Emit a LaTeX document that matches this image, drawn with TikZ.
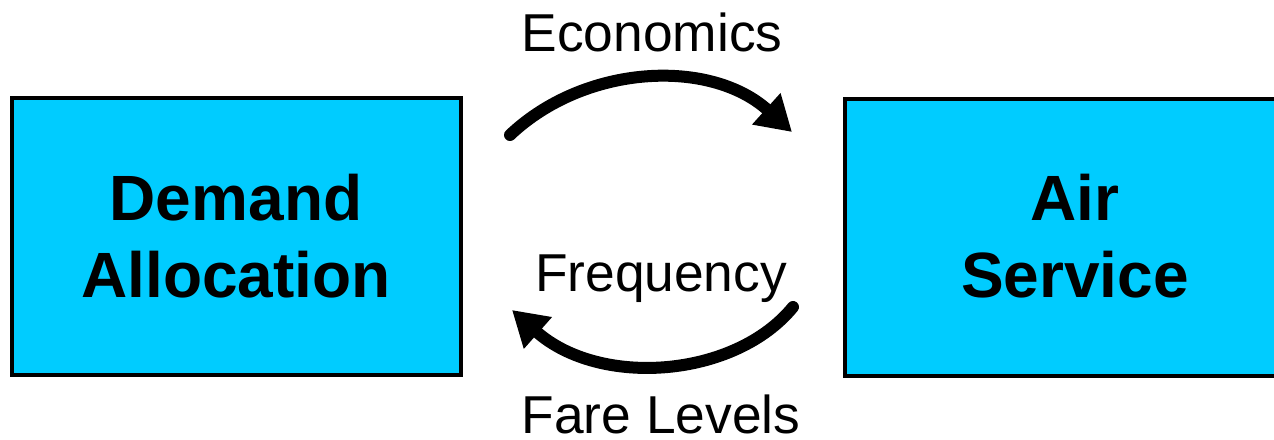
\documentclass[tikz,border=0pt]{standalone}
\usepackage{fontspec}
\setmainfont{Liberation Sans}
\usetikzlibrary{arrows.meta}
\definecolor{boxcyan}{RGB}{0,204,255}
\tikzset{
  box/.style={draw=black, line width=2.4pt, fill=boxcyan},
  boxtext/.style={font=\fontsize{48}{57.5}\selectfont\bfseries, align=center},
  lbl/.style={font=\fontsize{40}{46}\selectfont, anchor=base, inner ysep=0pt, text depth=0pt},
  flow/.style={line width=9pt, line cap=round, -{Triangle[length=26pt,width=30pt]}}
}
\begin{document}
\begin{tikzpicture}[x=0.75pt,y=-0.75pt]
\useasboundingbox (0,0) rectangle (1274,439);
\begin{scope}
\clip (0,0) rectangle (1274,439);
\draw[box] (12,98) rectangle (461,375);
\draw[box] (845,99) rectangle (1290,376);
\end{scope}
\node[boxtext] (dem) at (236,236) {Demand\\Allocation};
\node[boxtext] (air) at (1075,236) {Air\\Service};
\node[lbl] (eco) at (652,51) {Economics};
\node[lbl] (freq) at (661,291) {Frequency};
\node[lbl] (fare) at (661,433) {Fare Levels};
\coordinate (t1) at (510,135);
\coordinate (t2) at (792,132);
\coordinate (b1) at (793,307);
\coordinate (b2) at (512,310);
\draw[flow] (t1) .. controls (585,64) and (710,58) .. (t2);
\draw[flow] (b1) .. controls (735,378) and (600,388) .. (b2);
\end{tikzpicture}
\end{document}
